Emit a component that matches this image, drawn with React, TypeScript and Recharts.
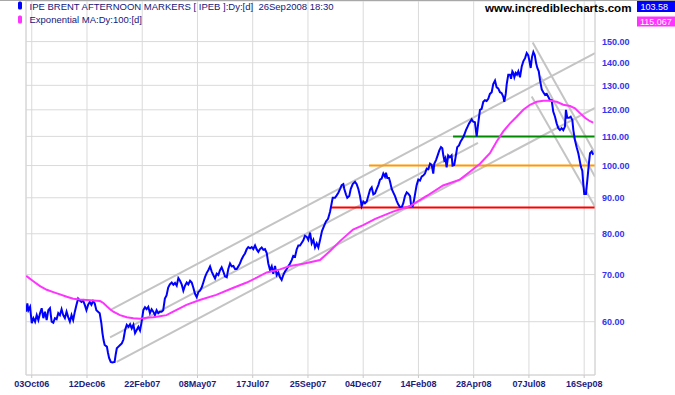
import React from "react";
import { LineChart, Line, XAxis, YAxis, CartesianGrid, ReferenceLine } from "recharts";

document.body.style.margin = "0";

const FONT = "'Liberation Sans', Arial, sans-serif";

// x is a trading-day index, 0 = 03Oct06, one gridline every 50 bars
const dateTicks = [0, 50, 100, 150, 200, 250, 300, 350, 400, 450, 500];
const dateLabels = [
  "03Oct06", "12Dec06", "22Feb07", "08May07", "17Jul07", "25Sep07",
  "04Dec07", "14Feb08", "28Apr08", "07Jul08", "16Sep08",
];
const priceTicks = [60, 70, 80, 90, 100, 110, 120, 130, 140, 150];

const BAR_MIN = -5.2;
const BAR_MAX = 509.8;
const PRICE_MIN = 50.4;
const PRICE_MAX = 171.3;

// IPE Brent afternoon markers [bar, price]
const brent: [number, number][] = [
  [-5, 62.0], [-4, 63.7], [-3, 62.3], [-1.5, 63.0], [0, 59.7], [1.5, 60.7], [3, 60.0], [4.5, 61.3],
  [6, 60.3], [7.5, 61.7], [9, 62.7], [10.5, 60.7], [12, 62.0], [13.5, 60.3], [15, 62.3], [16.5, 62.7],
  [18, 60.0], [19.5, 59.8], [21, 60.7], [22.5, 60.5], [24, 61.7], [25.5, 61.3], [27, 62.5], [28.5, 61.3],
  [30, 60.7], [31.5, 62.0], [33, 60.9], [34.5, 60.0], [36, 61.3], [37.5, 60.3], [39, 62.0], [40.5, 63.4],
  [42, 64.7], [43.5, 64.3], [45, 64.0], [46.5, 64.3], [48, 63.4], [49.5, 62.3], [51, 63.4], [52.5, 64.0],
  [54, 63.4], [55.5, 64.2], [57, 63.7], [58.5, 62.3], [60, 62.0], [61.5, 61.7], [63, 59.7], [64, 57.8],
  [65, 56.5], [66, 55.6], [68, 55.3], [69, 54.2], [70, 53.3], [71.5, 52.6], [73, 52.5], [75, 52.6],
  [76, 53.9], [77, 55.0], [78.5, 55.3], [80, 55.6], [81.5, 55.9], [83, 56.6], [84.5, 58.4], [86, 59.4],
  [87.5, 59.0], [89, 59.5], [90.5, 58.7], [92, 59.4], [93.5, 57.8], [95, 58.4], [96.5, 59.0], [98, 58.3],
  [99.5, 60.0], [101, 62.3], [102.5, 62.9], [104, 62.5], [105.5, 63.0], [107, 61.7], [108.5, 62.5], [110, 62.0],
  [111.5, 61.3], [113, 62.3], [114.5, 61.7], [116, 62.0], [117.5, 62.0], [119, 62.3], [120.5, 64.7], [122, 65.4],
  [123.5, 67.1], [125, 67.8], [126.7, 68.2], [128.2, 67.7], [129.7, 68.1], [131.2, 67.5], [132.7, 69.2], [134.2, 68.6],
  [135.7, 67.8], [137.2, 66.4], [138.7, 67.5], [140.3, 68.2], [141.7, 67.8], [143.3, 68.6], [144.8, 68.2], [146.2, 67.1],
  [147.8, 65.7], [149.3, 65.0], [150.8, 66.1], [152.3, 66.4], [153.8, 67.1], [155.3, 68.2], [156.8, 69.4], [158.4, 70.4],
  [159.8, 71.0], [161.4, 71.9], [162.9, 70.7], [164.3, 69.9], [165.9, 69.1], [167.4, 70.2], [168.9, 69.9], [170.4, 71.0],
  [171.9, 71.7], [173.4, 70.7], [174.9, 69.6], [176.5, 69.4], [177.9, 71.3], [179.5, 72.6], [181, 71.9], [182.5, 72.0],
  [184, 71.3], [185.5, 71.3], [187, 71.9], [188.5, 72.6], [190, 73.6], [191.5, 74.4], [193, 75.0], [194.6, 76.1],
  [196, 76.6], [197.6, 76.3], [199.1, 76.6], [200.5, 76.1], [202.1, 77.0], [203.6, 76.0], [205.1, 75.4], [206.6, 76.1],
  [208.1, 76.5], [209.6, 75.9], [211.1, 76.1], [212.7, 75.1], [214.1, 72.6], [215.7, 71.0], [217.2, 71.9], [218.6, 70.2],
  [220.2, 72.0], [221.7, 69.9], [223.2, 70.5], [224.7, 69.4], [226.2, 68.8], [227.7, 69.9], [229.2, 70.7], [230.8, 71.3],
  [232.2, 71.9], [233.8, 72.6], [235.3, 73.4], [236.7, 74.4], [238.3, 74.2], [239.8, 76.0], [241.3, 77.0], [242.8, 77.0],
  [244.4, 77.7], [245.8, 78.3], [247.3, 79.5], [248.9, 79.2], [250.3, 78.4], [251.9, 80.3], [253.4, 77.5], [254.9, 78.4],
  [256.4, 76.5], [257.9, 77.5], [259.4, 76.5], [260.9, 78.3], [262.7, 80.7], [264.5, 82.0], [266.3, 83.3], [268.2, 84.0],
  [270, 86.0], [272.4, 90.0], [274.5, 90.0], [276, 90.7], [277.5, 91.5], [279, 92.6], [280.5, 93.8], [282, 94.1],
  [282.9, 92.6], [284.4, 91.0], [285.6, 90.0], [287.4, 90.5], [288.7, 92.6], [290.5, 94.1], [292.6, 94.8], [294.1, 94.1],
  [295.6, 92.6], [297.1, 90.5], [298.6, 87.6], [300.1, 88.9], [301.6, 88.4], [303.2, 88.9], [304.6, 90.5], [306.2, 92.4],
  [307.7, 93.1], [309.2, 91.0], [310.7, 91.3], [312.2, 92.6], [313.7, 93.8], [315.2, 95.5], [316.7, 95.8], [318.2, 97.4],
  [319.7, 96.4], [320.6, 97.7], [321.8, 96.0], [323.3, 96.0], [324.2, 95.0], [325.8, 92.6], [327.2, 91.6], [328.8, 90.5],
  [330.3, 89.1], [331.8, 88.0], [333.3, 87.3], [334.8, 87.2], [336.3, 88.4], [337.8, 90.5], [339.4, 91.6], [340.8, 91.2],
  [342.4, 90.5], [343.3, 87.9], [344.8, 87.6], [345.9, 89.1], [347.2, 91.6], [348.4, 93.8], [349.9, 95.5], [351.4, 95.2],
  [353, 96.5], [354.4, 96.8], [355.9, 97.4], [357.5, 99.0], [358.9, 98.8], [360.5, 100.6], [362, 100.2], [363.4, 97.4],
  [364.3, 100.6], [365.9, 101.8], [367.4, 103.4], [368.9, 105.1], [370.4, 106.2], [371.6, 105.8], [372.5, 103.4], [373.4, 101.8],
  [374.4, 102.5], [375.5, 99.4], [376.9, 103.4], [378.5, 102.8], [380, 103.4], [380.9, 100.0], [382.4, 100.2], [383.9, 103.4],
  [385.1, 106.2], [386.7, 106.8], [388.2, 108.2], [390, 109.3], [391.4, 110.5], [393, 112.3], [394.5, 113.6], [395.9, 114.8],
  [398.2, 116.3], [399.6, 115.4], [401.1, 115.2], [402.7, 110.0], [404.1, 114.8], [405.7, 120.0], [407.2, 120.4], [408.7, 123.2],
  [410.2, 123.8], [411.7, 123.5], [413.2, 124.4], [414.7, 126.4], [416.3, 127.1], [417.7, 130.5], [419.3, 132.0], [420.8, 129.1],
  [422.2, 128.7], [423.8, 127.1], [425.3, 126.7], [426.8, 125.2], [427.7, 123.2], [429, 126.4], [429.9, 130.5], [431.3, 134.6],
  [432.9, 134.6], [433.8, 132.8], [435, 136.1], [435.9, 135.4], [436.8, 133.5], [438.1, 135.4], [439.2, 134.6], [440.4, 136.1],
  [441.9, 133.5], [443.5, 138.3], [444.9, 140.6], [446.5, 142.1], [448, 144.5], [449.4, 143.4], [450.3, 141.2], [451.6, 137.6],
  [452.8, 142.7], [454, 145.0], [455.3, 143.4], [456.5, 139.8], [457.6, 137.6], [458.9, 136.1], [460.1, 132.0], [461.6, 128.3],
  [463, 127.1], [464.6, 126.0], [466.1, 126.4], [467.5, 125.2], [469.1, 123.8], [470.6, 123.8], [472, 119.3], [473.6, 117.3],
  [475.1, 114.8], [476.6, 113.0], [478.1, 112.3], [479.6, 113.0], [481.1, 112.3], [482.6, 113.6], [483.5, 120.0], [484.7, 116.9],
  [486.3, 116.9], [487.8, 117.3], [489.3, 116.0], [490.2, 112.3], [491.7, 108.6], [493.2, 106.2], [494.7, 104.1], [496.2, 101.2],
  [497.1, 99.5], [498.3, 98.3], [499.2, 94.2], [500.1, 91.1], [501.6, 91.1], [503.2, 96.6], [504.4, 101.1], [505.3, 104.1],
  [506.8, 104.7], [508.2, 103.6],
];

// Exponential MA 100 [bar, value]
const ema100: [number, number][] = [
  [-5, 69.7], [1.4, 68.5], [7.5, 67.4], [13.6, 66.6], [19.5, 66.1], [25.6, 65.6], [31.7, 65.1], [37.6, 64.7],
  [43.7, 64.5], [49.8, 64.4], [55.7, 64.3], [61.8, 64.2], [64.8, 63.8], [67.9, 63.1], [70.9, 62.5], [73.8, 62.0],
  [79.9, 61.3], [86, 60.9], [92, 60.7], [98, 60.6], [104, 60.8], [110, 60.9], [116, 61.1], [122, 61.3],
  [128, 62.0], [140, 63.4], [152, 64.4], [167, 65.5], [182, 67.0], [194.6, 68.2], [203.6, 69.3], [212.7, 70.5],
  [224.7, 71.2], [233.8, 72.0], [245.8, 72.5], [260.9, 73.4], [270, 75.6], [279, 78.1], [290.8, 81.1], [300, 82.3],
  [310.9, 84.0], [327, 86.0], [342.4, 87.6], [357.8, 90.6], [372.3, 93.7], [387.5, 95.5], [396.6, 98.0], [405.7, 100.6],
  [414.7, 104.1], [420.8, 108.2], [426.8, 111.8], [432.9, 114.8], [438.9, 117.3], [444.9, 120.0], [451, 122.0], [457, 123.2],
  [463, 123.6], [469, 123.6], [475.1, 123.2], [481.1, 122.0], [487.2, 121.5], [491.7, 120.6], [496.2, 118.7], [500.7, 116.9],
  [505.3, 115.6], [508.2, 115.1],
];

// trend lines [bar1, price1, bar2, price2]
const trendLines: [number, number, number, number][] = [
  [70.9, 62.3, 509.8, 144.5],
  [70.9, 57.0, 403.9, 107.7],
  [76.9, 52.6, 509.8, 120.8],
  [453.4, 149.5, 509.8, 104.1],
  [460, 134.1, 509.8, 96.4],
  [452.5, 125.3, 509.8, 87.4],
];

// support / resistance levels
const levelValues = [110, 100, 87.2];
const levelStarts = [381.3, 305.3, 270];
const levelColors = ["#008a00", "#ff9900", "#ff0000"];

const lastPrice = "103.58";
const lastEma = "115.067";

export default function App() {
  const priceData = brent.map(([bar, value]) => ({ bar, value }));
  const emaData = ema100.map(([bar, value]) => ({ bar, value }));

  return (
    <div style={{ position: "relative", width: 675, height: 395, background: "#fff" }}>
      <LineChart width={675} height={395} margin={{ top: 1, right: 0, bottom: 0, left: 26 }}>
        <CartesianGrid stroke="#dadada" />
        <XAxis
          dataKey="bar"
          type="number"
          domain={[BAR_MIN, BAR_MAX]}
          allowDataOverflow
          ticks={dateTicks}
          interval={0}
          tickFormatter={(v: number) => dateLabels[dateTicks.indexOf(v)]}
          height={20}
          axisLine={{ stroke: "#d4d4d4" }}
          tickLine={{ stroke: "#c8c8c8" }}
          tickSize={3}
          tickMargin={3}
          tick={{ fontSize: 9, fill: "#1c1c80", fontFamily: FONT, fontWeight: "bold" }}
        />
        <YAxis
          orientation="right"
          type="number"
          scale="log"
          domain={[PRICE_MIN, PRICE_MAX]}
          allowDataOverflow
          ticks={priceTicks}
          interval={0}
          tickFormatter={(v: number) => v.toFixed(2)}
          width={80}
          axisLine={{ stroke: "#d4d4d4" }}
          tickLine={false}
          tickSize={5}
          tickMargin={2}
          tick={{ fontSize: 9, fill: "#3434ee", fontFamily: FONT, fontWeight: "bold" }}
        />
        <ReferenceLine x={BAR_MIN} stroke="#d4d4d4" ifOverflow="visible" />
        {trendLines.map(([x1, y1, x2, y2], i) => (
          <ReferenceLine
            key={"t" + i}
            segment={[{ x: x1, y: y1 }, { x: x2, y: y2 }]}
            stroke="#c4c4c4"
            strokeWidth={2}
            ifOverflow="hidden"
          />
        ))}
        {levelValues.map((v, i) => (
          <ReferenceLine
            key={"l" + i}
            segment={[{ x: levelStarts[i], y: v }, { x: BAR_MAX, y: v }]}
            stroke={levelColors[i]}
            strokeWidth={2}
            ifOverflow="hidden"
          />
        ))}
        <Line
          data={priceData}
          dataKey="value"
          type="linear"
          stroke="#0000ff"
          strokeWidth={2}
          dot={false}
          activeDot={false}
          isAnimationActive={false}
        />
        <Line
          data={emaData}
          dataKey="value"
          type="linear"
          stroke="#ff33ff"
          strokeWidth={2}
          dot={false}
          activeDot={false}
          isAnimationActive={false}
        />
      </LineChart>

      <svg
        width={675}
        height={395}
        style={{ position: "absolute", left: 0, top: 0, pointerEvents: "none" }}
        fontFamily={FONT}
      >
        <line x1={0} y1={0.5} x2={675} y2={0.5} stroke="#a8a8a8" />
        <rect x={18} y={1.5} width={4} height={8} rx={1.5} fill="#0000ff" />
        <text x={29.5} y={10} fontSize={9.5} fill="#16167a" style={{ whiteSpace: "pre" }}>
          IPE BRENT AFTERNOON MARKERS [ IPEB ]:Dy:[d]  26Sep2008 18:30
        </text>
        <rect x={18} y={15.5} width={4} height={8} rx={1.5} fill="#ff33ff" />
        <text x={29.5} y={22.5} fontSize={9.5} fill="#16167a">
          Exponential MA:Dy:100:[d]
        </text>
        <text x={485} y={12} fontSize={11.6} fontWeight="bold" fill="#000">
          www.incrediblecharts.com
        </text>
        <rect x={637} y={1} width={38} height={11} fill="#0000ff" />
        <text x={640.5} y={10} fontSize={9} fill="#fff">{lastPrice}</text>
        <rect x={637} y={16.5} width={38} height={10} fill="#ff33ff" />
        <text x={640} y={25} fontSize={9} fill="#fff">{lastEma}</text>
      </svg>
    </div>
  );
}
